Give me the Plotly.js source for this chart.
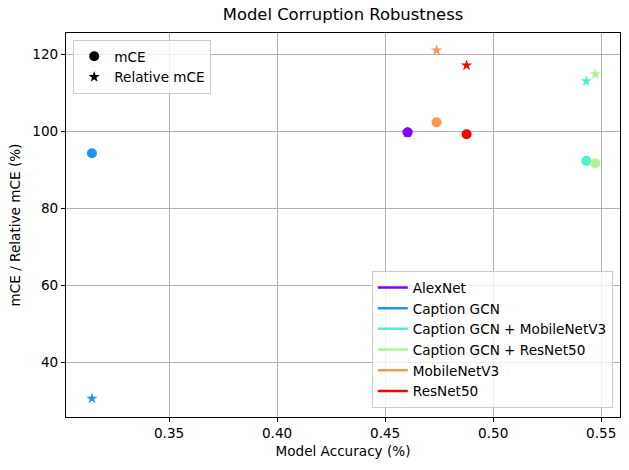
<!DOCTYPE html>
<html>
<head>
<meta charset="utf-8">
<script src="https://cdn.plot.ly/plotly-3.0.1.min.js"></script>
<style>html,body{margin:0;padding:0;background:#fff;}#chart{width:629px;height:470px;}</style>
</head>
<body>
<div id="chart"></div>
<script>
const models = ["AlexNet", "Caption GCN", "Caption GCN + MobileNetV3", "Caption GCN + ResNet50", "MobileNetV3", "ResNet50"];
const accuracy = [0.4604, 0.3143, 0.5431, 0.5473, 0.4738, 0.4877];
const mCE = [99.8, 94.4, 92.4, 91.8, 102.4, 99.3];
const relativeMCE = [99.8, 30.7, 113.1, 114.9, 121.1, 117.2];
const colors = ["#8000ff", "#1996f3", "#4df3ce", "#b3f396", "#ff964f", "#ff0000"];
const xTicks = [0.35, 0.40, 0.45, 0.50, 0.55];
const yTicks = [40, 60, 80, 100, 120];

const font = "DejaVu Sans, sans-serif";
const traces = [];
// Relative mCE stars (drawn first, under circles)
traces.push({
  x: accuracy, y: relativeMCE, type: "scatter", mode: "markers",
  marker: {symbol: "star", size: 8.5, color: colors, line: {width: 0}},
  showlegend: false, hoverinfo: "skip"
});
traces.push({
  x: accuracy, y: mCE, type: "scatter", mode: "markers",
  marker: {symbol: "circle", size: 10, color: colors, line: {width: 0}},
  showlegend: false, hoverinfo: "skip"
});
// Marker legend
traces.push({x: [null], y: [null], type: "scatter", mode: "markers", name: "mCE",
  marker: {symbol: "circle", size: 10, color: "black"}, legend: "legend"});
traces.push({x: [null], y: [null], type: "scatter", mode: "markers", name: "Relative mCE",
  marker: {symbol: "star", size: 8.5, color: "black"}, legend: "legend"});
// Model legend
models.forEach((m, i) => {
  traces.push({x: [null], y: [null], type: "scatter", mode: "lines", name: m,
    line: {color: colors[i], width: 2.5}, legend: "legend2"});
});

const fs = 13.6;
const layout = {
  width: 629, height: 470,
  margin: {l: 66, r: 9, t: 33, b: 53},
  paper_bgcolor: "#fff", plot_bgcolor: "#fff",
  font: {family: font, size: fs, color: "#000"},
  title: {text: "Model Corruption Robustness", font: {family: font, size: 16.4, color: "#000"},
    x: 0.5, xref: "paper", xanchor: "center", y: 1, yref: "container", yanchor: "top", pad: {t: 9}},
  xaxis: {
    range: [0.3023, 0.5587], tickvals: xTicks, ticktext: xTicks.map(v => v.toFixed(2)),
    showgrid: true, gridcolor: "#b0b0b0", gridwidth: 0.8, zeroline: false,
    showline: true, mirror: true, linecolor: "#000", linewidth: 1,
    ticks: "outside", ticklen: 4, tickcolor: "#000", tickwidth: 1,
    tickfont: {family: font, size: fs, color: "#000"},
    title: {text: "Model Accuracy (%)", font: {family: font, size: fs, color: "#000"}, standoff: 6}
  },
  yaxis: {
    range: [25.9, 125.6], tickvals: yTicks, ticktext: yTicks.map(String),
    showgrid: true, gridcolor: "#b0b0b0", gridwidth: 0.8, zeroline: false,
    showline: true, mirror: true, linecolor: "#000", linewidth: 1,
    ticks: "outside", ticklen: 4, tickcolor: "#000", tickwidth: 1,
    tickfont: {family: font, size: fs, color: "#000"},
    title: {text: "mCE / Relative mCE (%)", font: {family: font, size: fs, color: "#000"}, standoff: 8}
  },
  legend: {
    x: 0.013, y: 0.982, xanchor: "left", yanchor: "top",
    bgcolor: "rgba(255,255,255,0.8)", bordercolor: "#cccccc", borderwidth: 1,
    font: {family: font, size: fs, color: "#000"}, itemwidth: 30, tracegroupgap: 0
  },
  legend2: {
    x: 0.987, y: 0.023, xanchor: "right", yanchor: "bottom",
    bgcolor: "rgba(255,255,255,0.8)", bordercolor: "#cccccc", borderwidth: 1,
    font: {family: font, size: fs, color: "#000"}, itemwidth: 30, tracegroupgap: 0
  },
  showlegend: true
};

Plotly.newPlot("chart", traces, layout, {displayModeBar: false, responsive: false});
</script>
</body>
</html>
